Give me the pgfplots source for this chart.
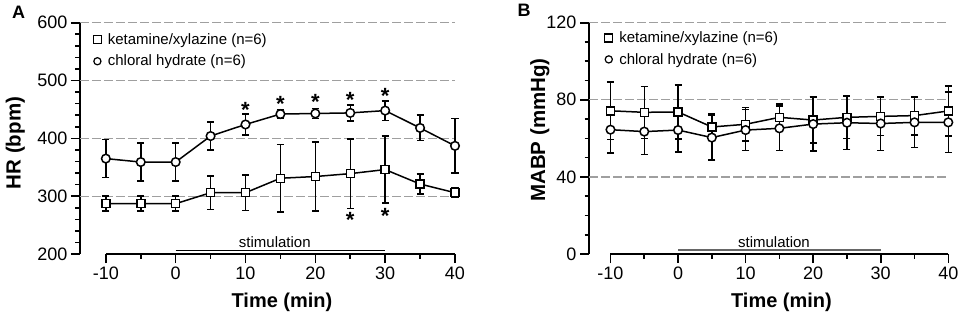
\documentclass[border=0pt]{standalone}
\usepackage{pgfplots}
\pgfplotsset{compat=1.18}
\usepackage{fontspec}
\setmainfont{Liberation Sans}

\pgfplotsset{
  myax/.style={
    scale only axis, anchor=south west,
    axis y line*=left, axis x line*=bottom,
    axis line style={-, line width=1.6pt},
    x axis line style={draw=none},
    tick align=outside,
    major tick length=9pt, minor tick length=4.5pt,
    every tick/.style={black, line width=1.6pt},
    xtick={-10,0,...,40}, minor xtick={-5,5,...,35},
    xticklabels={-10,0,10,20,30,40},
    ticklabel style={font=\fontsize{18}{20}\selectfont},
    /pgf/number format/assume math mode=true,
    clip=false,
    legend style={draw=none, fill=none, font=\fontsize{15}{18}\selectfont, inner sep=0pt, row sep=5pt, cells={anchor=west}},
    legend image code/.code={\draw[##1] plot coordinates {(4.6pt,0pt)}; \path (0pt,0pt) (12.5pt,0pt);},
    major grid style={gray!75, line width=1.2pt, dash pattern=on 9pt off 3pt},
  },
  errb/.style={
    error bars/y dir=both, error bars/y explicit,
    error bars/error bar style={line width=1.5pt},
    error bars/error mark options={rotate=90, mark size=3.5pt, line width=1.5pt}},
  sq/.style={black, line width=1.5pt, mark=square*, mark size=4pt, mark options={fill=white, solid, line width=1.5pt}, errb},
  ci/.style={black, line width=1.5pt, mark=*, mark size=4.3pt, mark options={fill=white, solid, line width=1.5pt}, errb},
  star/.style={draw=none, mark=none, nodes near coords={*}, every node near coord/.append style={anchor=center, yshift=-4.5pt, font=\fontsize{22}{22}\selectfont\bfseries}},
}

\begin{document}
\begin{tikzpicture}
\useasboundingbox (0,0) rectangle (962pt,314pt);

% ---------- Panel A ----------
\begin{axis}[myax, at={(80pt,60pt)}, width=375pt, height=231.3pt,
  xmin=-13.7, xmax=40, ymin=200, ymax=600,
  ytick={200,300,...,600}, minor ytick={220,240,...,580},
  extra y ticks={300,400,500,600}, extra y tick labels={},
  extra y tick style={grid=major, major tick length=0pt},
  legend style={at={(rel axis cs:0.032,0.962)}, anchor=north west}]
\addlegendimage{black, line width=1.2pt, only marks, mark=square*, mark size=4pt, mark options={fill=white}}
\addlegendentry{ketamine/xylazine (n=6)}
\addlegendimage{black, line width=1.2pt, only marks, mark=*, mark size=3.6pt, mark options={fill=white}}
\addlegendentry{chloral hydrate (n=6)}
\draw[black, line width=1.6pt] (axis cs:-10,200) -- (axis cs:40,200);
\draw[black, line width=1pt] (axis cs:0,206.9) -- (axis cs:30,206.9);
\node[anchor=base, font=\fontsize{15}{18}\selectfont] at (axis cs:14.2,210.5) {stimulation};
\addplot[forget plot, sq] coordinates {
(-10,287) +- (0,13)
(-5,287) +- (0,13)
(0,287) +- (0,13)
(5,306) +- (0,29)
(10,306) +- (0,31)
(15,331) +- (0,58)
(20,334) +- (0,60)
(25,339) +- (0,60)
(30,346) +- (0,58)
(35,321) +- (0,17)
(40,306) +- (0,8)
};
\addplot[forget plot, ci] coordinates {
(-10,365) +- (0,33)
(-5,359) +- (0,33)
(0,359) +- (0,33)
(5,404) +- (0,24)
(10,424) +- (0,18)
(15,442) +- (0,8)
(20,443) +- (0,9)
(25,444) +- (0,14)
(30,448) +- (0,17)
(35,418) +- (0,22)
(40,387) +- (0,47)
};
\addplot[forget plot, star] coordinates {
(10,457.6) (15,468) (20,471) (25,475) (30,482) (25,267) (30,274)
};
\end{axis}

% ---------- Panel B ----------
\begin{axis}[myax, at={(589pt,60pt)}, width=359.3pt, height=231.3pt,
  xmin=-13.18, xmax=40, ymin=0, ymax=120,
  ytick={0,40,80,120}, minor ytick={10,20,30,50,60,70,90,100,110},
  extra y ticks={40,80,120}, extra y tick labels={},
  extra y tick style={grid=major, major tick length=0pt},
  legend style={at={(rel axis cs:0.04,0.97)}, anchor=north west}]
\addlegendimage{black, line width=1.2pt, only marks, mark=square*, mark size=4pt, mark options={fill=white}}
\addlegendentry{ketamine/xylazine (n=6)}
\addlegendimage{black, line width=1.2pt, only marks, mark=*, mark size=3.6pt, mark options={fill=white}}
\addlegendentry{chloral hydrate (n=6)}
\draw[black, line width=1.6pt] (axis cs:-10,0) -- (axis cs:40,0);
\draw[gray!80!black, line width=1.8pt] (axis cs:0,2.2) -- (axis cs:30,2.2);
\node[anchor=base, font=\fontsize{15}{18}\selectfont] at (axis cs:14.2,3.4) {stimulation};
\addplot[forget plot, sq] coordinates {
(-10,74.3) +- (0,15)
(-5,73.5) +- (0,13.5)
(0,73.7) +- (0,14)
(5,65.9) +- (0,7)
(10,67.3) +- (0,8.6)
(15,70.9) +- (0,7)
(20,69.5) +- (0,12)
(25,70.9) +- (0,11)
(30,71.4) +- (0,10)
(35,71.8) +- (0,10)
(40,74.2) +- (0,13)
};
\addplot[forget plot, ci] coordinates {
(-10,64.5) +- (0,12)
(-5,63.5) +- (0,12)
(0,64.3) +- (0,11.5)
(5,60.4) +- (0,11.6)
(10,64.3) +- (0,10.7)
(15,65.2) +- (0,11.6)
(20,67.4) +- (0,14)
(25,68.1) +- (0,14)
(30,67.7) +- (0,14)
(35,68.3) +- (0,13)
(40,68.3) +- (0,15.7)
};
\end{axis}

% ---------- Labels ----------
\node[font=\fontsize{18}{18}\selectfont\bfseries] at (18.5pt,302pt) {A};
\node[font=\fontsize{18}{18}\selectfont\bfseries] at (524pt,304pt) {B};
\node[rotate=90, anchor=base, font=\fontsize{20.5}{22}\selectfont\bfseries] at (20.5pt,171pt) {HR (bpm)};
\node[rotate=90, anchor=base, font=\fontsize{20.5}{22}\selectfont\bfseries] at (545pt,184pt) {MABP (mmHg)};
\node[anchor=base, font=\fontsize{20}{22}\selectfont\bfseries] at (282pt,7pt) {Time (min)};
\node[anchor=base, font=\fontsize{20}{22}\selectfont\bfseries] at (781.5pt,7pt) {Time (min)};
\end{tikzpicture}
\end{document}
